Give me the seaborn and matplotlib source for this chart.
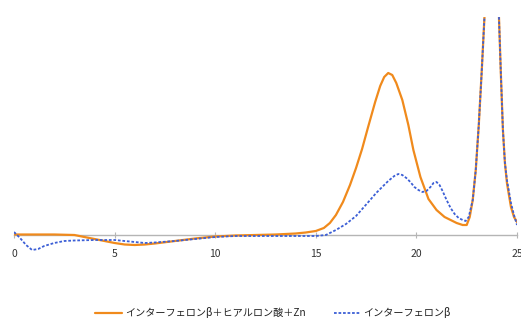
import matplotlib
matplotlib.use("Agg")
import matplotlib.pyplot as plt
import seaborn as sns
import pandas as pd

sns.set_theme(style="white")
plt.rcParams['font.family'] = ['Noto Sans CJK JP', 'DejaVu Sans']

label_a = "インターフェロンβ＋ヒアルロン酸＋Zn"
label_b = "インターフェロンβ"

x_a = [0.0, 1.0, 2.0, 3.0, 3.5, 4.0, 4.5, 5.0, 5.5, 6.0, 6.5, 7.0, 8.0, 9.0, 10.0,
       11.0, 12.0, 13.0, 14.0, 14.5, 15.0, 15.4, 15.7, 16.0, 16.35, 16.7, 17.0, 17.3,
       17.6, 17.95, 18.2, 18.4, 18.6, 18.8, 19.0, 19.3, 19.6, 19.85, 20.2, 20.6,
       21.0, 21.4, 21.7, 22.0, 22.3, 22.5, 22.65, 22.8, 22.95, 23.1, 23.25, 23.4,
       23.7, 24.0, 24.1, 24.2, 24.3, 24.4, 24.5, 24.7, 24.85, 25.0]
y_a = [0.5, 0.5, 0.5, 0, -2, -4, -6, -8, -9.5, -10, -9.5, -8.5, -6, -3.5, -1.5,
       -0.5, 0, 0.5, 1.5, 2.5, 4, 7, 12, 20, 33, 50, 67, 86,
       108, 133, 149, 158, 162, 160, 152, 135, 110, 85, 58, 36,
       25, 18, 15, 12, 10, 10, 18, 35, 65, 110, 165, 225,
       320, 260, 220, 160, 105, 72, 52, 28, 18, 13]

x_b = [0.0, 0.3, 0.6, 0.9, 1.2, 1.5, 2.0, 2.5, 3.0, 4.0, 5.0, 5.5, 6.0, 6.5, 7.0,
       8.0, 9.0, 10.0, 11.0, 12.0, 13.0, 14.0, 15.0, 15.5, 15.7, 16.0, 16.5, 17.0,
       17.35, 17.7, 18.0, 18.3, 18.6, 18.9, 19.1, 19.3, 19.5, 19.7, 19.9, 20.1,
       20.3, 20.5, 20.7, 20.85, 21.0, 21.15, 21.3, 21.5, 21.7, 21.9, 22.1, 22.3,
       22.45, 22.6, 22.8, 22.95, 23.1, 23.25, 23.4, 23.7, 24.0, 24.1, 24.2, 24.3,
       24.4, 24.5, 24.7, 24.85, 25.0]
y_b = [3, -3, -10, -15, -14, -11, -8, -6, -5.5, -5, -5, -6, -7, -8, -7.5,
       -6, -4, -2, -1, -1, -1, -1, -1, 0, 2, 5, 11, 19,
       27, 35, 42, 48, 54, 59, 61, 60, 57, 53, 48, 45,
       43, 44, 48, 52, 53, 50, 44, 35, 27, 21, 17, 15,
       14, 18, 35, 65, 110, 165, 225, 320, 260, 220, 160, 105,
       72, 55, 32, 20, 10]

xticks = [0, 5, 10, 15, 20, 25]

df = pd.concat([
    pd.DataFrame({"x": x_a, "y": y_a, "s": label_a}),
    pd.DataFrame({"x": x_b, "y": y_b, "s": label_b}),
])

fig = plt.figure(figsize=(5.21, 3.21), dpi=100)
ax = fig.add_axes([14 / 521, 1 - 265 / 321, (517 - 14) / 521, (265 - 17) / 321])

sns.lineplot(data=df[df.s == label_a], x="x", y="y", ax=ax, color="#f08a1c",
             linewidth=1.6, label=label_a, sort=False)
sns.lineplot(data=df[df.s == label_b], x="x", y="y", ax=ax, color="#3c5fd6",
             linewidth=1.3, linestyle=(0, (1.5, 1)), label=label_b, sort=False)

ax.set_xlim(0, 25)
ax.set_ylim(-30, 218)
for s in ["top", "right", "left"]:
    ax.spines[s].set_visible(False)
ax.spines["bottom"].set_position(("data", 0))
ax.spines["bottom"].set_color("#b5b5b5")
ax.spines["bottom"].set_linewidth(1.0)
ax.spines["bottom"].set_zorder(0)
ax.set_xticks(xticks)
ax.set_xticklabels([str(t) for t in xticks])
ax.tick_params(axis="x", direction="inout", length=4, width=0.8, color="#b5b5b5",
               labelsize=7.5, labelcolor="#333333", pad=8, bottom=True)
ax.set_yticks([])
ax.set_xlabel("")
ax.set_ylabel("")
ax.patch.set_alpha(0)

ax.get_legend().remove()
h, l = ax.get_legend_handles_labels()
fig.legend(h, l, loc="center", bbox_to_anchor=(0.524, 1 - 313 / 321), ncol=2,
           frameon=False, fontsize=7.3, handlelength=2.6, columnspacing=2.8,
           handletextpad=0.3, labelcolor="#222222")

fig.savefig("out.png", dpi=100)
